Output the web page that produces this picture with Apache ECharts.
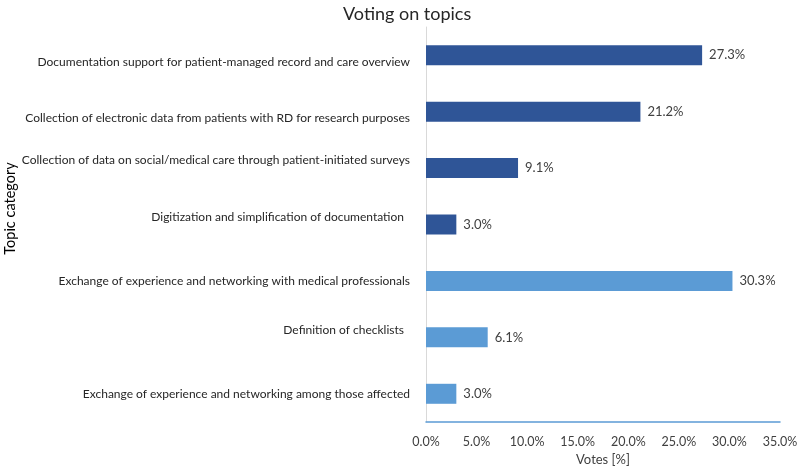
<!DOCTYPE html>
<html>
<head>
<meta charset="utf-8">
<script src="https://cdn.jsdelivr.net/npm/echarts@6/dist/echarts.min.js"></script>
<style>html,body{margin:0;padding:0;background:#fff}#c{width:797px;height:471px}</style>
</head>
<body>
<div id="c"></div>
<script>
const categories = [
  "Documentation support for patient-managed record and care overview",
  "Collection of electronic data from patients with RD for research purposes",
  "Collection of data on social/medical care through patient-initiated surveys",
  "Digitization and simplification of documentation",
  "Exchange of experience and networking with medical professionals",
  "Definition of checklists",
  "Exchange of experience and networking among those affected"
];
const votes = [27.3, 21.2, 9.1, 3.0, 30.3, 6.1, 3.0];
const groupIndex = [0, 0, 0, 0, 1, 1, 1];
const xTicks = [0, 5, 10, 15, 20, 25, 30, 35];

const groupColors = ['#2F5597', '#5B9BD5'];
const labelStyleKeys = ['dn', 'dn', 'up', 'upr', 'mid', 'upr', 'mid'];
const FONT = 'Lato';

const chart = echarts.init(document.getElementById('c'), null, {renderer: 'canvas'});
chart.setOption({
  animation: false,
  backgroundColor: '#fff',
  title: {
    text: 'Voting on topics',
    left: 338, top: 0,
    textStyle: {fontFamily: FONT, fontSize: 18, fontWeight: 'normal', color: '#262626'}
  },
  grid: {left: 426, right: 17, top: 27, bottom: 49, containLabel: false, outerBoundsMode: 'none'},
  xAxis: {
    type: 'value',
    min: xTicks[0], max: xTicks[xTicks.length - 1], interval: 5,
    name: 'Votes [%]', nameLocation: 'middle', nameGap: 31,
    nameTextStyle: {fontFamily: FONT, fontSize: 13, color: '#404040'},
    axisLine: {show: true, lineStyle: {color: '#5B9BD5', width: 1.5}},
    axisTick: {show: false},
    splitLine: {show: false},
    axisLabel: {fontFamily: FONT, fontSize: 12.5, color: '#404040', margin: 13,
      formatter: v => v.toFixed(1) + '%'}
  },
  yAxis: {
    type: 'category', data: categories, inverse: true,
    name: 'Topic category', nameLocation: 'middle', nameGap: 408, nameRotate: 90,
    nameTextStyle: {fontFamily: FONT, fontSize: 14.5, color: '#000', padding: [0, 0, 0, 32]},
    axisLine: {show: true, lineStyle: {color: '#D9D9D9', width: 1}},
    axisTick: {show: false},
    axisLabel: {
      margin: 16, color: '#262626', fontFamily: FONT, fontSize: 12,
      formatter: (v, i) => '{' + labelStyleKeys[i] + '|' + v + '}',
      rich: {
        dn: {fontFamily: FONT, fontSize: 12, color: '#262626', padding: [13, 0, 0, 0]},
        up: {fontFamily: FONT, fontSize: 12, color: '#262626', padding: [0, 0, 16, 0]},
        upr: {fontFamily: FONT, fontSize: 12, color: '#262626', padding: [0, 6, 15, 0]},
        mid: {fontFamily: FONT, fontSize: 12, color: '#262626'}
      }
    }
  },
  series: [{
    type: 'bar',
    data: votes,
    barWidth: 20,
    itemStyle: {color: p => groupColors[groupIndex[p.dataIndex]]},
    label: {show: true, position: 'right', distance: 7, fontFamily: FONT, fontSize: 13,
      color: '#404040', formatter: p => p.value.toFixed(1) + '%'}
  }]
});
</script>
</body>
</html>
